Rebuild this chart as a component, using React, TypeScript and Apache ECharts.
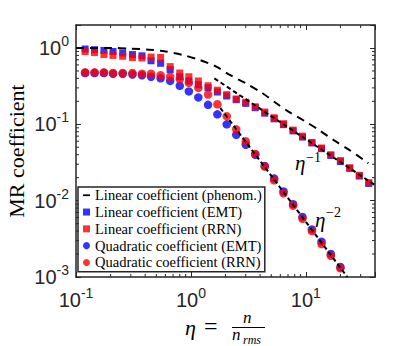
import React, { useEffect, useRef } from 'react';
import * as echarts from 'echarts';

const ETA = [0.12, 0.145, 0.175, 0.21, 0.255, 0.31, 0.375, 0.45, 0.545, 0.66, 0.8, 0.96, 1.16, 1.41, 1.7, 2.05, 2.48, 3.0, 3.63, 4.39, 5.3, 6.4, 7.75, 9.35, 11.3, 13.7, 16.5, 20, 24.1, 29.2, 35.3];
const LIN_EMT = [0.97, 0.95, 0.93, 0.9, 0.86, 0.82, 0.79, 0.68, 0.63, 0.52, 0.42, 0.37, 0.33, 0.3, 0.265, 0.235, 0.21, 0.188, 0.165, 0.14, 0.118, 0.099, 0.082, 0.068, 0.057, 0.048, 0.039, 0.0325, 0.0265, 0.021, 0.0168];
const LIN_RRN = [0.9, 0.87, 0.82, 0.8, 0.78, 0.75, 0.74, 0.76, 0.75, 0.57, 0.47, 0.42, 0.37, 0.32, 0.28, 0.245, 0.215, 0.195, 0.17, 0.145, 0.122, 0.102, 0.084, 0.07, 0.058, 0.049, 0.04, 0.0335, 0.027, 0.0215, 0.0172];
const QUAD_EMT = [0.47, 0.47, 0.47, 0.46, 0.46, 0.45, 0.44, 0.42, 0.4, 0.37, 0.32, 0.27, 0.225, 0.18, 0.135, 0.1, 0.073, 0.054, 0.04, 0.0285, 0.0195, 0.0132, 0.009, 0.0061, 0.0042, 0.0029, 0.002, 0.00135];
const QUAD_RRN = [0.48, 0.48, 0.48, 0.47, 0.47, 0.47, 0.46, 0.46, 0.44, 0.42, 0.39, 0.35, 0.3, 0.245, 0.183, 0.128, 0.086, 0.06, 0.041, 0.028, 0.0185, 0.0125, 0.0086, 0.0058, 0.004, 0.0027, 0.0019, 0.0013];
const PHENOM_ETA = [0.1, 0.2, 0.3, 0.43, 0.6, 0.85, 1.18, 1.66, 2.2, 3.0, 4.2, 5.5, 7.0, 9.8, 13.2, 17.8, 24, 35];
const PHENOM_VAL = [1.0, 1.0, 0.98, 0.95, 0.9, 0.81, 0.7, 0.57, 0.44, 0.345, 0.255, 0.19, 0.148, 0.11, 0.083, 0.061, 0.046, 0.031];
const INV1_ETA = [1.6, 40];
const INV1_VAL = [0.4, 0.016];
const INV2_ETA = [1.8, 23];
const INV2_VAL = [0.164, 0.001];
const X_MINOR = [0.2, 0.3, 0.4, 0.5, 0.6, 0.7, 0.8, 0.9, 2, 3, 4, 5, 6, 7, 8, 9, 20, 30];
const Y_MINOR = [0.002, 0.003, 0.004, 0.005, 0.006, 0.007, 0.008, 0.009, 0.02, 0.03, 0.04, 0.05, 0.06, 0.07, 0.08, 0.09, 0.2, 0.3, 0.4, 0.5, 0.6, 0.7, 0.8, 0.9];
const NAMES = [
  'Linear coefficient (phenom.)',
  'Linear coefficient (EMT)',
  'Linear coefficient (RRN)',
  'Quadratic coefficient (EMT)',
  'Quadratic coefficient (RRN)',
];

const AX = '#262626';
const SERIF = 'Liberation Serif';
const SANS = 'Liberation Sans';

const zip = (xs: number[], ys: number[]) => ys.map((y, i) => [xs[i], y]);

const powLabel = (v: number) => {
  const e = Math.log10(v);
  const r = Math.round(e);
  if (Math.abs(e - r) > 1e-6) return '';
  return '{b|10}{s|' + r + '}';
};

const labelRich = {
  b: { fontSize: 20, fontFamily: SANS, color: AX, lineHeight: 28 },
  s: { fontSize: 14, fontFamily: SANS, color: AX, lineHeight: 14, verticalAlign: 'top' },
};

export default function App() {
  const ref = useRef<HTMLDivElement>(null);
  useEffect(() => {
    document.body.style.margin = '0';
    const chart = echarts.init(ref.current!, null, { renderer: 'svg' });
    const minorData = [
      ...X_MINOR.map((v) => [v, 1, 0]),
      ...Y_MINOR.map((v) => [1, v, 1]),
    ];
    const option: any = {
      animation: false,
      backgroundColor: '#fff',
      grid: { left: 76, top: 25, right: 40, bottom: 69, containLabel: false, outerBoundsMode: 'none' },
      xAxis: [
        {
          type: 'log', logBase: 10, min: 0.1, max: 40, position: 'bottom',
          axisLine: { show: true, lineStyle: { color: AX, width: 1.5 } },
          axisTick: { show: true, inside: true, length: 5, lineStyle: { color: AX, width: 1 } },
          axisLabel: { formatter: powLabel, margin: 9, rich: labelRich },
          splitLine: { show: false },
        },
        {
          type: 'log', logBase: 10, min: 0.1, max: 40, position: 'top',
          axisLine: { show: true, lineStyle: { color: AX, width: 1.5 } },
          axisTick: { show: true, inside: true, length: 5, lineStyle: { color: AX, width: 1 } },
          axisLabel: { show: false },
          splitLine: { show: false },
        },
      ],
      yAxis: [
        {
          type: 'log', logBase: 10, min: 0.001, max: 2, position: 'left',
          name: 'MR coefficient', nameLocation: 'middle', nameGap: 49, nameMoveOverlap: false,
          nameTextStyle: { fontFamily: SERIF, fontSize: 22, color: '#000' },
          axisLine: { show: true, lineStyle: { color: AX, width: 1.5 } },
          axisTick: { show: true, inside: true, length: 5, lineStyle: { color: AX, width: 1 } },
          axisLabel: { formatter: powLabel, margin: 7, rich: labelRich },
          splitLine: { show: false },
        },
        {
          type: 'log', logBase: 10, min: 0.001, max: 2, position: 'right',
          axisLine: { show: true, lineStyle: { color: AX, width: 1.5 } },
          axisTick: { show: true, inside: true, length: 5, lineStyle: { color: AX, width: 1 } },
          axisLabel: { show: false },
          splitLine: { show: false },
        },
      ],
      legend: {
        orient: 'vertical', left: 78, top: 187,
        padding: [0, 3, 1, 5], itemGap: 0.3, itemWidth: 7, itemHeight: 7,
        backgroundColor: '#fff', borderColor: AX, borderWidth: 1.5, borderRadius: 0,
        selectedMode: false,
        textStyle: { fontFamily: SERIF, fontSize: 14.5, lineHeight: 16.5, color: '#000' },
        data: [
          { name: NAMES[0], icon: 'path://M0 0H10V2.5H0Z' },
          { name: NAMES[1], icon: 'rect' },
          { name: NAMES[2], icon: 'rect' },
          { name: NAMES[3], icon: 'circle' },
          { name: NAMES[4], icon: 'circle' },
        ],
      },
      series: [
        {
          name: NAMES[1], type: 'scatter', symbol: 'rect', symbolSize: 7, clip: true,
          itemStyle: { color: '#0000ff' }, data: zip(ETA, LIN_EMT), z: 2,
        },
        {
          name: NAMES[2], type: 'scatter', symbol: 'rect', symbolSize: 7, clip: true,
          itemStyle: { color: '#ff0000' }, data: zip(ETA, LIN_RRN), z: 3,
        },
        {
          name: NAMES[3], type: 'scatter', symbol: 'circle', symbolSize: 8.5, clip: true,
          itemStyle: { color: '#0000ff' }, data: zip(ETA, QUAD_EMT), z: 4,
        },
        {
          name: NAMES[4], type: 'scatter', symbol: 'circle', symbolSize: 8.5, clip: true,
          itemStyle: { color: '#ff0000' }, data: zip(ETA, QUAD_RRN), z: 5,
        },
        {
          name: NAMES[0], type: 'line', symbol: 'none', smooth: 0.3, clip: true,
          itemStyle: { color: '#000' },
          lineStyle: { color: '#000', width: 2, type: [8, 6] },
          data: zip(PHENOM_ETA, PHENOM_VAL), z: 6,
        },
        {
          name: 'eta^-1', type: 'line', symbol: 'none', clip: true,
          itemStyle: { color: '#000' },
          lineStyle: { color: '#000', width: 2, type: [4.5, 3] },
          data: zip(INV1_ETA, INV1_VAL), z: 6,
        },
        {
          name: 'eta^-2', type: 'line', symbol: 'none', clip: true,
          itemStyle: { color: '#000' },
          lineStyle: { color: '#000', width: 2, type: [4.5, 3] },
          data: zip(INV2_ETA, INV2_VAL), z: 6,
        },
        {
          name: 'minor ticks', type: 'custom', silent: true, z: 10,
          data: minorData,
          renderItem: (params: any, api: any) => {
            const cs = params.coordSys;
            const isX = api.value(2) === 0;
            const p = api.coord([api.value(0), api.value(1)]);
            const L = 3;
            const style = { stroke: AX, lineWidth: 1 };
            if (isX) {
              return {
                type: 'group', children: [
                  { type: 'line', shape: { x1: p[0], y1: cs.y + cs.height, x2: p[0], y2: cs.y + cs.height - L }, style },
                  { type: 'line', shape: { x1: p[0], y1: cs.y, x2: p[0], y2: cs.y + L }, style },
                ],
              };
            }
            return {
              type: 'group', children: [
                { type: 'line', shape: { x1: cs.x, y1: p[1], x2: cs.x + L, y2: p[1] }, style },
                { type: 'line', shape: { x1: cs.x + cs.width, y1: p[1], x2: cs.x + cs.width - L, y2: p[1] }, style },
              ],
            };
          },
        },
      ],
      graphic: [
        { type: 'text', left: 295, top: 152, z: 20, style: { text: 'η', fontFamily: SERIF, fontStyle: 'italic', fontSize: 21, fill: '#000' } },
        { type: 'text', left: 306, top: 150, z: 20, style: { text: '−1', fontFamily: SERIF, fontSize: 14, fill: '#000' } },
        { type: 'text', left: 315, top: 209, z: 20, style: { text: 'η', fontFamily: SERIF, fontStyle: 'italic', fontSize: 21, fill: '#000' } },
        { type: 'text', left: 326, top: 205, z: 20, style: { text: '−2', fontFamily: SERIF, fontSize: 14, fill: '#000' } },
        { type: 'text', left: 185, top: 316, style: { text: 'η', fontFamily: SERIF, fontStyle: 'italic', fontSize: 22, fill: '#000' } },
        { type: 'text', left: 204, top: 314, style: { text: '=', fontFamily: SERIF, fontSize: 24, fill: '#000' } },
        { type: 'text', left: 243, top: 309, style: { text: 'n', fontFamily: SERIF, fontStyle: 'italic', fontSize: 17, fill: '#000' } },
        { type: 'line', shape: { x1: 232, y1: 327.5, x2: 265, y2: 327.5 }, style: { stroke: '#000', lineWidth: 1 } },
        { type: 'text', left: 232, top: 326, style: { text: 'n', fontFamily: SERIF, fontStyle: 'italic', fontSize: 17, fill: '#000' } },
        { type: 'text', left: 243, top: 334, style: { text: 'rms', fontFamily: SERIF, fontStyle: 'italic', fontSize: 12, fill: '#000' } },
      ],
    };
    chart.setOption(option);
    return () => chart.dispose();
  }, []);
  return <div ref={ref} style={{ width: 415, height: 346 }} />;
}
